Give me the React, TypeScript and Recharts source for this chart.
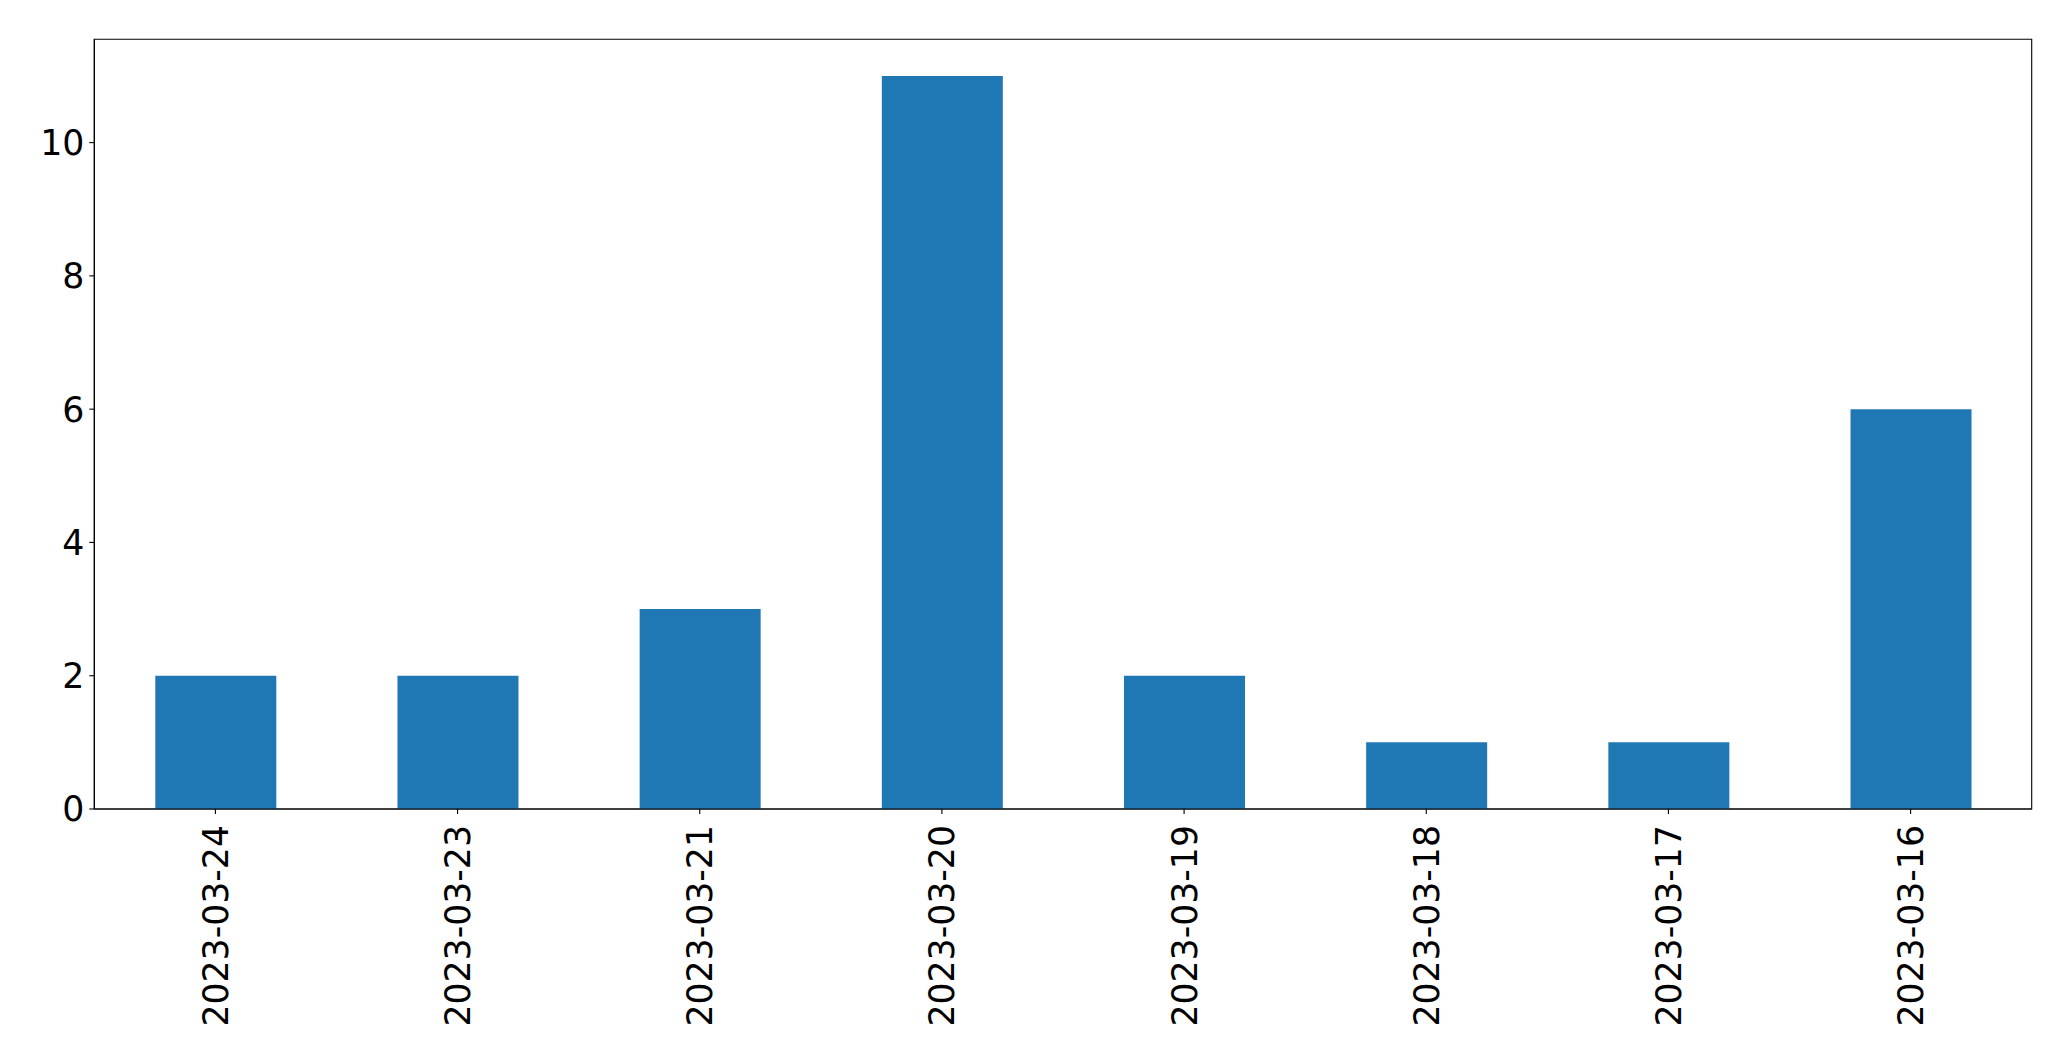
import React from "react";
import { BarChart, Bar, XAxis, YAxis, ReferenceArea } from "recharts";

const dates = [
  "2023-03-24",
  "2023-03-23",
  "2023-03-21",
  "2023-03-20",
  "2023-03-19",
  "2023-03-18",
  "2023-03-17",
  "2023-03-16",
];
const counts = [2, 2, 3, 11, 2, 1, 1, 6];
const yTicks = [0, 2, 4, 6, 8, 10];
const yMax = 11.55;

const data = dates.map((d, i) => ({ date: d, count: counts[i] }));

const FONT = "'DejaVu Sans', sans-serif";

const DateTick = (props: any) => {
  const { x, y, payload } = props;
  const ty = y + 9;
  return (
    <text
      x={x}
      y={ty}
      dy="0.36em"
      transform={`rotate(-90, ${x}, ${ty})`}
      textAnchor="end"
      fontSize={34.7}
      fontFamily={FONT}
      fill="#000"
    >
      {payload.value}
    </text>
  );
};

const CountTick = (props: any) => {
  const { x, y, payload } = props;
  return (
    <text
      x={x}
      y={y}
      dy="0.36em"
      textAnchor="end"
      fontSize={34.7}
      fontFamily={FONT}
      fill="#000"
    >
      {payload.value}
    </text>
  );
};

const App: React.FC = () => {
  return (
    <BarChart
      width={2055}
      height={1045}
      data={data}
      margin={{ top: 31.3, right: 31.3, bottom: 14, left: 6.3 }}
    >
      <XAxis
        dataKey="date"
        tick={<DateTick />}
        tickSize={5}
        tickMargin={2}
        interval={0}
        height={230}
        axisLine={{ stroke: "#000", strokeWidth: 1.1 }}
        tickLine={{ stroke: "#000", strokeWidth: 1.1 }}
      />
      <YAxis
        domain={[0, yMax]}
        ticks={yTicks}
        width={80}
        tickSize={5}
        tickMargin={5}
        tick={<CountTick />}
        axisLine={{ stroke: "#000", strokeWidth: 1.1 }}
        tickLine={{ stroke: "#000", strokeWidth: 1.1 }}
      />
      <Bar
        dataKey="count"
        fill="#1f77b4"
        barSize={121}
        isAnimationActive={false}
      />
      <ReferenceArea
        x1={dates[0]}
        x2={dates[dates.length - 1]}
        y1={0}
        y2={yMax}
        fill="none"
        fillOpacity={0}
        stroke="#000"
        strokeWidth={1.1}
        ifOverflow="visible"
      />
    </BarChart>
  );
};

export default App;
